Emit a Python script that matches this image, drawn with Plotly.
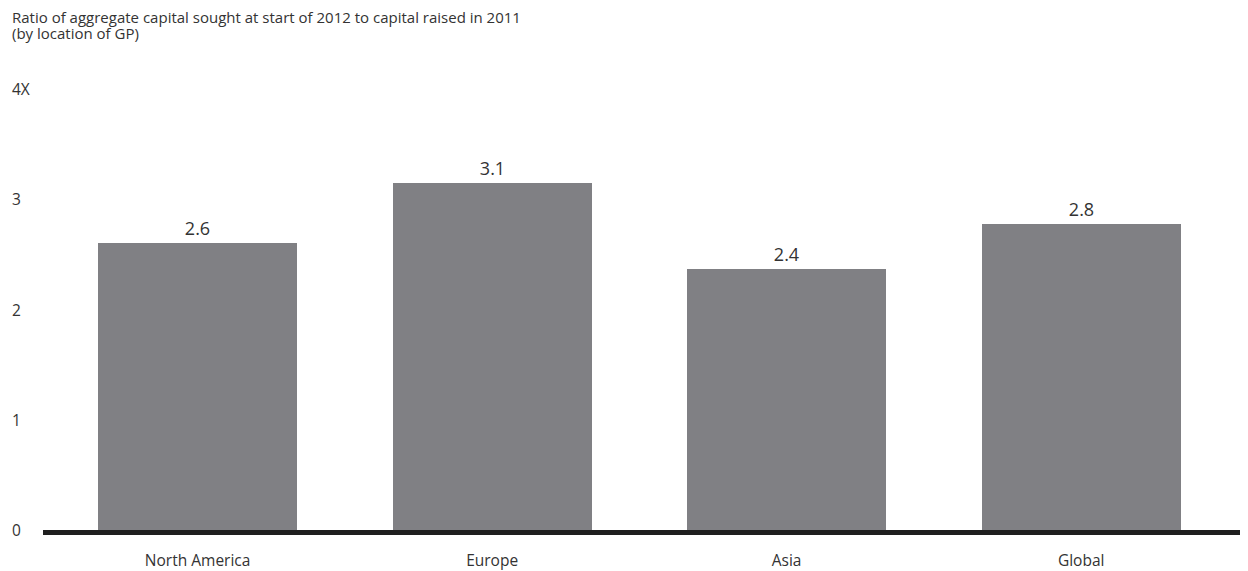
import plotly.graph_objects as go

categories = ["North America", "Europe", "Asia", "Global"]
values = [2.60, 3.15, 2.37, 2.78]
value_labels = ["2.6", "3.1", "2.4", "2.8"]
y_ticks = [0, 1, 2, 3, 4]
y_tick_text = ["0", "1", "2", "3", "4X"]
title_lines = ["Ratio of aggregate capital sought at start of 2012 to capital raised in 2011",
               "(by location of GP)"]

FONT = "Open Sans"
TXT = "#333333"

# page body adds an 8px offset; figure sized to fill the remaining window
fig = go.Figure()
fig.add_trace(go.Bar(
    x=categories, y=values, text=value_labels, textposition="outside",
    textfont=dict(family=FONT, size=18, color=TXT),
    marker=dict(color="#808084", line=dict(width=0)),
    width=0.676, cliponaxis=False,
))

annotations = []
for v, t in zip(y_ticks, y_tick_text):
    annotations.append(dict(x=0, xref="paper", xanchor="left", xshift=-33,
                            y=v, yref="y", yanchor="middle", text=t, showarrow=False,
                            font=dict(family=FONT, size=15.5, color=TXT)))
title_shifts = [72, 56]
for line, ys in zip(title_lines, title_shifts):
    annotations.append(dict(x=0, xref="paper", xshift=-33, y=1, yref="paper", yshift=ys,
                            text=line, showarrow=False, xanchor="left", yanchor="middle",
                            font=dict(family=FONT, size=15, color=TXT)))

fig.update_layout(
    width=1240, height=563,
    margin=dict(l=35, r=4, t=81, b=41, autoexpand=False),
    plot_bgcolor="white", paper_bgcolor="white",
    showlegend=False,
    annotations=annotations,
    xaxis=dict(range=[-0.525, 3.553], showline=True, linecolor="#1f1f1f", linewidth=5,
               ticks="outside", ticklen=12, tickcolor="rgba(0,0,0,0)", automargin=False,
               tickfont=dict(family=FONT, size=15.5, color=TXT), showgrid=False,
               zeroline=False),
    yaxis=dict(range=[0, 4], showticklabels=False, showgrid=False, zeroline=False,
               showline=False, automargin=False),
    bargap=0,
)

fig.write_html("out.html")
